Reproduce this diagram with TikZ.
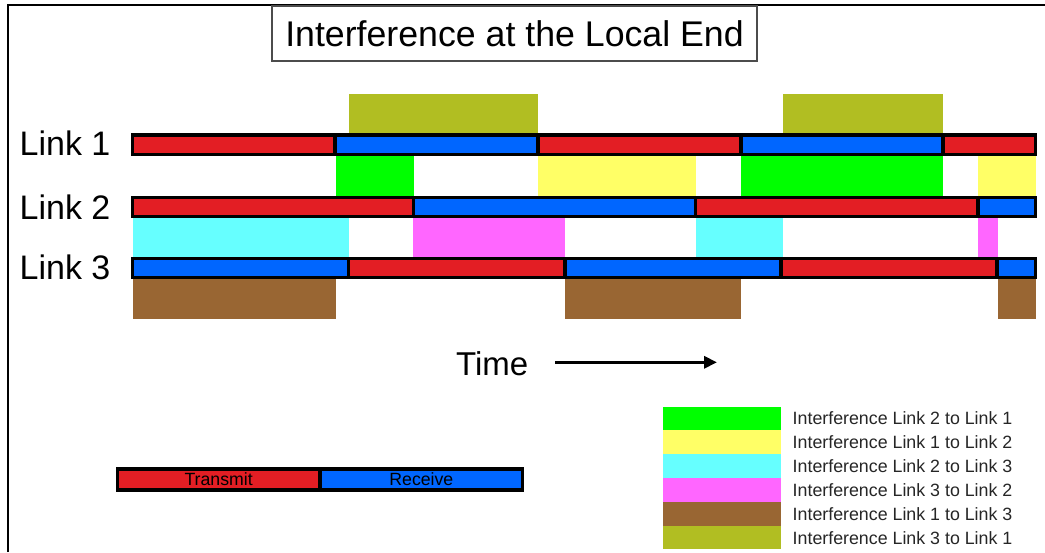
\documentclass[tikz,border=0pt]{standalone}
\usepackage{fontspec}
\setmainfont{Liberation Sans}
\usetikzlibrary{fit,arrows.meta}
\definecolor{txred}{HTML}{E31E24}
\definecolor{rxblue}{HTML}{0066FF}
\definecolor{igreen}{HTML}{00FF00}
\definecolor{iyellow}{HTML}{FFFF66}
\definecolor{icyan}{HTML}{66FFFF}
\definecolor{imag}{HTML}{FF66FF}
\definecolor{ibrown}{HTML}{996633}
\definecolor{iolive}{HTML}{B1BE22}
\newcommand{\segm}[6]{\node[segbox,fill=#6,fit={(#2,#3) (#4,#5)}] (#1) {};}
\newcommand{\intf}[6]{\node[intbox,fill=#6,fit={(#2,#3) (#4,#5)}] (#1) {};}
\begin{document}
\begin{tikzpicture}[x=1pt,y=-1pt,
  segbox/.style={draw=black,line width=3.3pt,inner sep=0pt,outer sep=0pt},
  intbox/.style={draw=none,inner sep=0pt,outer sep=0pt},
  linklabel/.style={anchor=base west,inner sep=0pt,font=\fontsize{34}{38}\selectfont},
  legtext/.style={anchor=west,inner sep=0pt,text=black!85,font=\fontsize{17.8}{20}\selectfont},
  swatch/.style={draw=none,inner sep=0pt,outer sep=0pt}]
\useasboundingbox (0,0) rectangle (1045,552);
\fill[white] (0,0) rectangle (1045,552);
% frame
\draw[line width=2pt] (8,552) -- (8,5) -- (1045,5);
% title
\node[draw=black!70,line width=1.5pt,minimum width=485pt,minimum height=55pt,inner sep=0pt,
  font=\fontsize{35.7}{40}\selectfont] (title) at (514.5,33.5) {Interference at the Local End};
% interference blocks
\intf{ol1}{349}{94}{538}{133.3}{iolive}
\intf{ol2}{782.7}{94}{943}{133.3}{iolive}
\intf{gr1}{335.7}{156}{414}{196}{igreen}
\intf{gr2}{741}{156}{943}{196}{igreen}
\intf{ye1}{537.7}{156}{695.7}{196}{iyellow}
\intf{ye2}{977.7}{156}{1036}{196}{iyellow}
\intf{cy1}{132.7}{218.3}{349}{256.7}{icyan}
\intf{cy2}{696}{218.3}{782.7}{256.7}{icyan}
\intf{ma1}{413.3}{218.3}{565}{256.7}{imag}
\intf{ma2}{977.7}{218.3}{997.7}{256.7}{imag}
\intf{br1}{132.7}{279.3}{335.7}{319.3}{ibrown}
\intf{br2}{565.3}{279.3}{741}{319.3}{ibrown}
\intf{br3}{997.7}{279.3}{1036}{319.3}{ibrown}
% link 1 bar
\segm{la1}{132.6}{135}{335}{154.4}{txred}
\segm{la2}{335}{135}{538}{154.4}{rxblue}
\segm{la3}{538}{135}{741}{154.4}{txred}
\segm{la4}{741}{135}{943}{154.4}{rxblue}
\segm{la5}{943}{135}{1035.4}{154.4}{txred}
% link 2 bar
\segm{lb1}{132.6}{197.6}{413.5}{216.7}{txred}
\segm{lb2}{413.5}{197.6}{695.5}{216.7}{rxblue}
\segm{lb3}{695.5}{197.6}{978}{216.7}{txred}
\segm{lb4}{978}{197.6}{1035.4}{216.7}{rxblue}
% link 3 bar
\segm{lc1}{132.6}{258.3}{348.7}{277.7}{rxblue}
\segm{lc2}{348.7}{258.3}{565}{277.7}{txred}
\segm{lc3}{565}{258.3}{781}{277.7}{rxblue}
\segm{lc4}{781}{258.3}{997}{277.7}{txred}
\segm{lc5}{997}{258.3}{1035.4}{277.7}{rxblue}
% link labels
\node[linklabel] (lab1) at (19.5,155.7) {Link 1};
\node[linklabel] (lab2) at (19.5,219) {Link 2};
\node[linklabel] (lab3) at (19.5,279.3) {Link 3};
% time arrow
\node[anchor=base west,inner sep=0pt,font=\fontsize{33}{36}\selectfont] (time) at (456,375) {Time};
\coordinate (tstart) at (555,362.3);
\coordinate (tend) at (717,362.3);
\draw[line width=3.3pt,-{Triangle[length=13pt,width=12pt]}] (tstart) -- (tend);
% transmit / receive legend
\segm{tx}{117.3}{468.9}{320}{490.1}{txred}
\segm{rx}{320}{468.9}{522.7}{490.1}{rxblue}
\node[inner sep=0pt,font=\fontsize{17.7}{20}\selectfont] (txt) at (tx.center) {Transmit};
\node[inner sep=0pt,font=\fontsize{17.7}{20}\selectfont] (rxt) at (rx.center) {Receive};
% interference legend
\node[swatch,fill=igreen,fit={(663.3,406.7) (780.7,430.2)}] (sw1) {};
\node[swatch,fill=iyellow,fit={(663.3,430.2) (780.7,454.1)}] (sw2) {};
\node[swatch,fill=icyan,fit={(663.3,454.1) (780.7,477.9)}] (sw3) {};
\node[swatch,fill=imag,fit={(663.3,477.9) (780.7,501.7)}] (sw4) {};
\node[swatch,fill=ibrown,fit={(663.3,501.7) (780.7,526)}] (sw5) {};
\node[swatch,fill=iolive,fit={(663.3,526) (780.7,549.3)}] (sw6) {};
\node[legtext] (lt1) at (792.5,418.5) {Interference Link 2 to Link 1};
\node[legtext] (lt2) at (792.5,442.2) {Interference Link 1 to Link 2};
\node[legtext] (lt3) at (792.5,466) {Interference Link 2 to Link 3};
\node[legtext] (lt4) at (792.5,489.8) {Interference Link 3 to Link 2};
\node[legtext] (lt5) at (792.5,513.9) {Interference Link 1 to Link 3};
\node[legtext] (lt6) at (792.5,537.7) {Interference Link 3 to Link 1};
\end{tikzpicture}
\end{document}
